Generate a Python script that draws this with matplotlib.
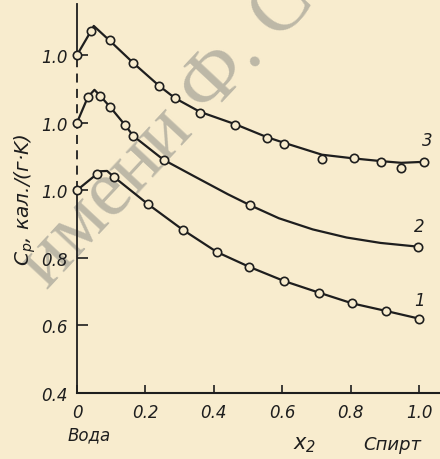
import matplotlib
matplotlib.use("Agg")
import matplotlib.pyplot as plt

# ---------------- data ----------------
# curve 1 (bottom)
x1 = [0.0, 0.057, 0.107, 0.207, 0.309, 0.409, 0.504, 0.606, 0.707, 0.805, 0.902, 1.0]
y1 = [1.0, 1.047, 1.040, 0.959, 0.883, 0.817, 0.773, 0.731, 0.697, 0.665, 0.643, 0.620]
x1_extra = [0.068, 0.088]          # line-only points (rounded maximum)
y1_extra = [1.056, 1.057]

# curve 2 (middle)
x2 = [0.0, 0.032, 0.067, 0.097, 0.141, 0.165, 0.253, 0.505, 0.996]
y2 = [1.0, 1.076, 1.080, 1.046, 0.992, 0.960, 0.890, 0.756, 0.633]
x2_extra = [0.051, 0.341, 0.441, 0.590, 0.689, 0.788, 0.887]
y2_extra = [1.097, 0.842, 0.788, 0.717, 0.684, 0.660, 0.644]

# curve 3 (top) - markers scatter about a smooth line
x3 = [0.0, 0.041, 0.095, 0.165, 0.241, 0.287, 0.359, 0.463, 0.555, 0.606, 0.716, 0.809, 0.889, 0.948, 1.015]
y3 = [1.0, 1.071, 1.043, 0.976, 0.908, 0.874, 0.827, 0.793, 0.753, 0.737, 0.692, 0.696, 0.682, 0.667, 0.684]
x3_line = [0.0, 0.041, 0.049, 0.095, 0.165, 0.241, 0.287, 0.359, 0.463, 0.555, 0.606, 0.716, 0.809, 0.889, 0.948, 1.015]
y3_line = [1.0, 1.071, 1.086, 1.043, 0.976, 0.908, 0.872, 0.832, 0.795, 0.757, 0.740, 0.705, 0.694, 0.686, 0.681, 0.684]

offsets = [0.0, 0.2, 0.4]            # vertical shift of curves 2 and 3
curve_names = ["1", "2", "3"]

yticks = [0.4, 0.6, 0.8, 1.0, 1.2, 1.4]
ytick_labels = ["0.4", "0.6", "0.8", "1.0", "1.0", "1.0"]
xticks = [0.0, 0.2, 0.4, 0.6, 0.8, 1.0]
xtick_labels = ["0", "0.2", "0.4", "0.6", "0.8", "1.0"]

# ---------------- style ----------------
BG = "#f8ecce"
INK = "#1e1e1e"
plt.rcParams["font.family"] = ["DejaVu Sans"]
plt.rcParams["font.style"] = "italic"
plt.rcParams["mathtext.fontset"] = "dejavusans"
plt.rcParams["mathtext.default"] = "it"

fig = plt.figure(figsize=(4.4, 4.6), dpi=100, facecolor=BG)
ax = fig.add_axes([0.175, 0.1435, 0.825, 0.8457])
ax.set_facecolor("none")
ax.set_xlim(0, 1.061)
ax.set_ylim(0.4, 1.551)
for s in ax.spines.values():
    s.set_visible(False)

# watermark of the scanned book
ax.text(0.38, 0.71, "имени Ф. С", transform=fig.transFigure, rotation=47,
        fontsize=58, family="Liberation Serif", style="normal",
        color="#bdb8a7", ha="center", va="center", zorder=0.5)

# axis lines
ax.plot([0, 0], [0.4, 1.0], color=INK, lw=1.3, clip_on=False, zorder=2)
ax.plot([0, 0], [1.0, 1.4], color=INK, lw=1.3, ls=(0, (5, 3.5)), clip_on=False, zorder=2)
ax.plot([0, 0], [1.4, 1.551], color=INK, lw=1.3, clip_on=False, zorder=2)
ax.plot([0, 1.061], [0.4, 0.4], color=INK, lw=1.5, clip_on=False, zorder=2)

ax.set_xticks(xticks)
ax.set_xticklabels(xtick_labels)
ax.set_yticks(yticks)
ax.set_yticklabels(ytick_labels)
ax.tick_params(axis="both", direction="in", colors=INK, labelsize=12, width=1.2)
ax.tick_params(axis="x", length=6, pad=7)
ax.tick_params(axis="y", length=8, pad=7)

mk = dict(marker="o", markersize=6, mfc=BG, mec=INK, mew=1.2, ls="none",
          clip_on=False, zorder=4)

def merged(xa, ya, xb, yb):
    pts = sorted(zip(list(xa) + list(xb), list(ya) + list(yb)))
    return [p[0] for p in pts], [p[1] for p in pts]

lx1, ly1 = merged(x1, y1, x1_extra, y1_extra)
lx2, ly2 = merged(x2, y2, x2_extra, y2_extra)
lines = [(lx1, ly1), (lx2, ly2), (x3_line, y3_line)]
marks = [(x1, y1), (x2, y2), (x3, y3)]

for (lx, ly), (mx, my), off in zip(lines, marks, offsets):
    ax.plot(lx, [v + off for v in ly], color=INK, lw=1.6, clip_on=False, zorder=3,
            solid_joinstyle="round")
    ax.plot(mx, [v + off for v in my], **mk)

# curve numbers
label_pos = [(1.0, 0.675), (1.0, 0.895), (1.025, 1.15)]
for name, (lx, ly) in zip(curve_names, label_pos):
    ax.text(lx, ly, name, fontsize=12, color=INK, ha="center", va="center")

# axis captions
ax.text(0.035, 0.4 - 0.097, "Вода", fontsize=12, color=INK, ha="center", va="top",
        clip_on=False)
ax.text(0.665, 0.4 - 0.15, r"$x_2$", fontsize=15, color=INK, ha="center", va="center")
ax.text(0.92, 0.4 - 0.15, "Спирт", fontsize=13, color=INK, ha="center", va="center")

fig.text(0.058, 0.565, r"$C_p$, кал./(г·K)", rotation=90, fontsize=14.5,
         color=INK, ha="center", va="center")

fig.savefig("out.png", dpi=100, facecolor=BG)
